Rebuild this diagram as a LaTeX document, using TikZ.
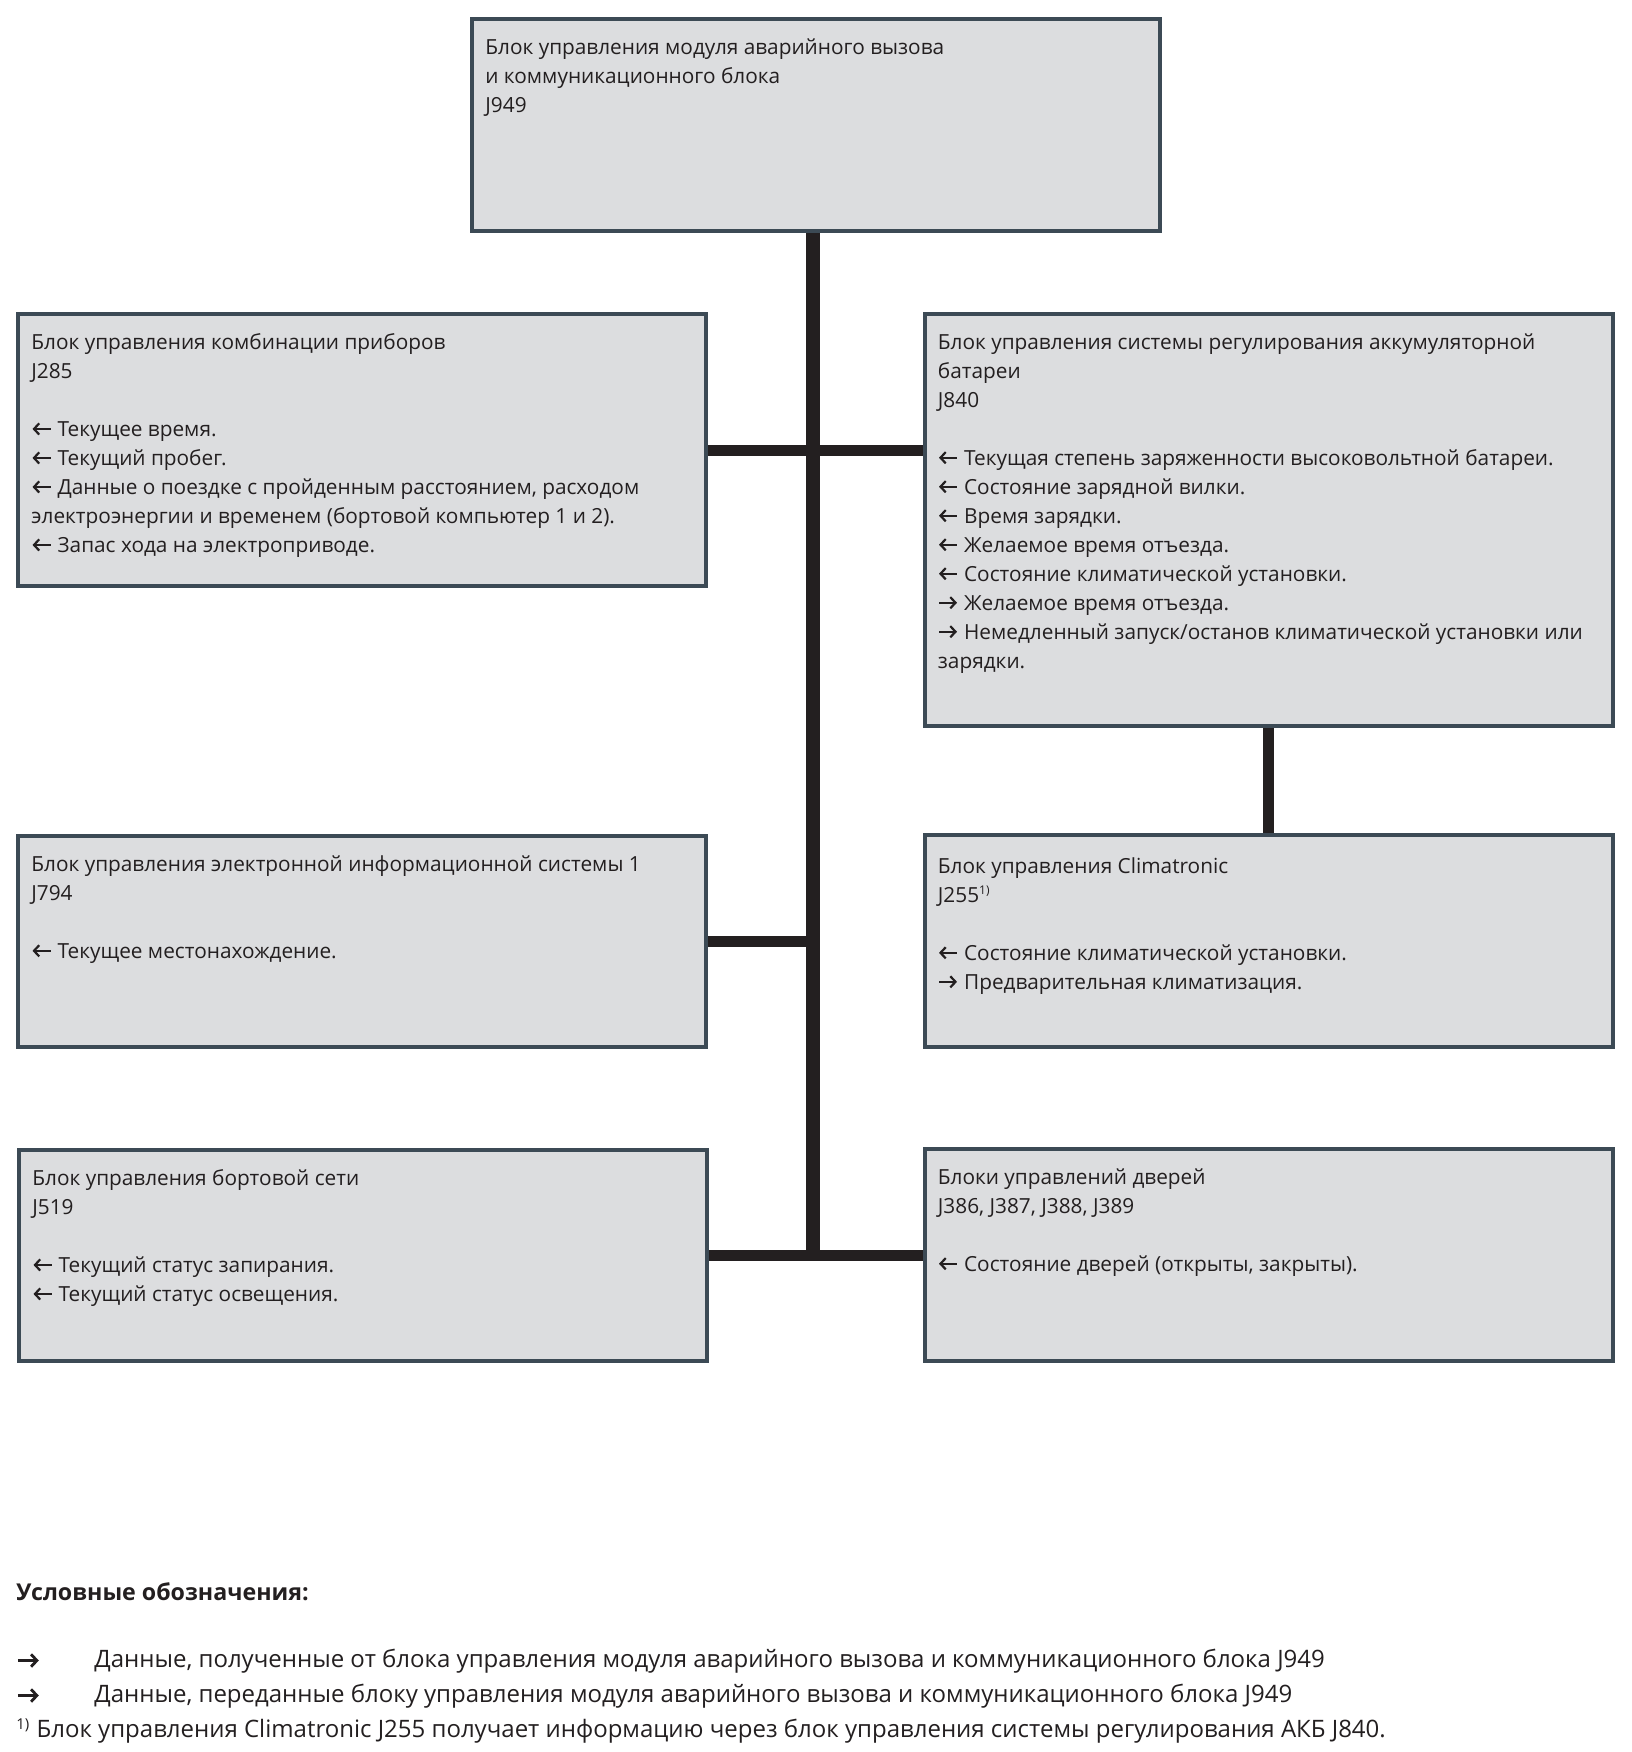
\documentclass[tikz,border=0pt]{standalone}
\usepackage{fontspec}
\setmainfont{Open Sans}
\usetikzlibrary{calc,arrows.meta}
\definecolor{boxfill}{HTML}{DCDDDF}
\definecolor{boxline}{HTML}{3C4A55}
\definecolor{ink}{HTML}{231F20}
\newcommand\arL{\tikz[baseline=0pt]\draw[ink, line width=1.1pt, {Straight Barb[length=2.6pt,width=5.6pt,line width=1.1pt]}-] (0pt,3.7pt) -- (9pt,3.7pt);\hspace{3pt}}
\newcommand\arR{\tikz[baseline=0pt]\draw[ink, line width=1.1pt, -{Straight Barb[length=2.6pt,width=5.6pt,line width=1.1pt]}] (0pt,3.7pt) -- (9pt,3.7pt);\hspace{3pt}}
\newcommand\legarrow{\tikz[baseline=0pt]\draw[ink, line width=1.4pt, -{Straight Barb[length=2.9pt,width=6.2pt,line width=1.4pt]}] (0pt,4.3pt) -- (10.5pt,4.3pt);}
\newcommand\boxfont{\fontsize{10.4pt}{14.5pt}\selectfont}
\newcommand\legfont{\fontsize{12pt}{17pt}\selectfont}
\pgfdeclarelayer{bg}
\pgfsetlayers{bg,main}
\begin{document}
\begin{tikzpicture}[x=0.5pt,y=-0.5pt,
  box/.style={draw=boxline, line width=2pt, fill=boxfill, inner sep=0pt, minimum width=344pt},
  txt/.style={anchor=north west, inner sep=0pt, align=left, text=ink, font=\boxfont},
  vbus/.style={draw=ink, line width=7pt},
  hbus/.style={draw=ink, line width=5.5pt},
  leg/.style={anchor=west, inner sep=0pt, text=ink, font=\legfont}]
\useasboundingbox (0,0) rectangle (1632,1752);

% boxes
\node[box, minimum height=106pt] (top) at (816,125) {};
\node[box, minimum height=136pt] (j285) at (362,450) {};
\node[box, minimum height=206pt] (j840) at (1268.5,520) {};
\node[box, minimum height=105.5pt] (j794) at (362,941.5) {};
\node[box, minimum height=106pt] (j255) at (1268.5,941) {};
\node[box, minimum height=105.5pt] (j519) at (363,1255.5) {};
\node[box, minimum height=106pt] (doors) at (1268.5,1255) {};

% texts
\node[txt] (ttop) at ($(top.north west)+(15,21)$) {Блок управления модуля аварийного вызова\\и коммуникационного блока\\J949};
\node[txt] (t285) at ($(j285.north west)+(15,21)$) {Блок управления комбинации приборов\\J285\\[14.5pt]\arL Текущее время.\\\arL Текущий пробег.\\\arL Данные о поездке с пройденным расстоянием, расходом\\электроэнергии и временем (бортовой компьютер 1 и 2).\\\arL Запас хода на электроприводе.};
\node[txt] (t840) at ($(j840.north west)+(15,21)$) {Блок управления системы регулирования аккумуляторной\\батареи\\J840\\[14.5pt]\arL Текущая степень заряженности высоковольтной батареи.\\\arL Состояние зарядной вилки.\\\arL Время зарядки.\\\arL Желаемое время отъезда.\\\arL Состояние климатической установки.\\\arR Желаемое время отъезда.\\\arR Немедленный запуск/останов климатической установки или\\зарядки.};
\node[txt] (t794) at ($(j794.north west)+(15,21)$) {Блок управления электронной информационной системы 1\\J794\\[14.5pt]\arL Текущее местонахождение.};
\node[txt] (t255) at ($(j255.north west)+(15,24)$) {Блок управления Climatronic\\J255\textsuperscript{\fontsize{6pt}{6pt}\selectfont 1)}\\[14.5pt]\arL Состояние климатической установки.\\\arR Предварительная климатизация.};
\node[txt] (t519) at ($(j519.north west)+(15,21)$) {Блок управления бортовой сети\\J519\\[14.5pt]\arL Текущий статус запирания.\\\arL Текущий статус освещения.};
\node[txt] (tdoors) at ($(doors.north west)+(15,21)$) {Блоки управлений дверей\\J386, J387, J388, J389\\[14.5pt]\arL Состояние дверей (открыты, закрыты).};

% connectors
\coordinate (busend) at ($(top.south)+(-3,0)$);
\coordinate (jb) at (busend |- j519.east);
\begin{pgfonlayer}{bg}
\draw[vbus] (busend) -- (jb);
\draw[hbus] (j285.east) -- (j285.east -| j840.west);
\draw[hbus] (j794.east) -- (j794.east -| jb);
\draw[hbus] (j519.east) -- (j519.east -| doors.west);
\draw[hbus] (j840.south) -- (j255.north);
\end{pgfonlayer}

% legend
\node[leg, font=\fontsize{11.6pt}{17pt}\selectfont\bfseries] (legtitle) at (16,1592) {Условные обозначения:};
\node[leg] (la1) at (16,1661) {\legarrow};
\node[leg] (lt1) at (94,1661) {Данные, полученные от блока управления модуля аварийного вызова и коммуникационного блока J949};
\node[leg] (la2) at (16,1696) {\legarrow};
\node[leg] (lt2) at (94,1696) {Данные, переданные блоку управления модуля аварийного вызова и коммуникационного блока J949};
\node[leg] (fn) at (16,1731) {\textsuperscript{\fontsize{7.5pt}{8pt}\selectfont 1)} Блок управления Climatronic J255 получает информацию через блок управления системы регулирования АКБ J840.};
\end{tikzpicture}
\end{document}
